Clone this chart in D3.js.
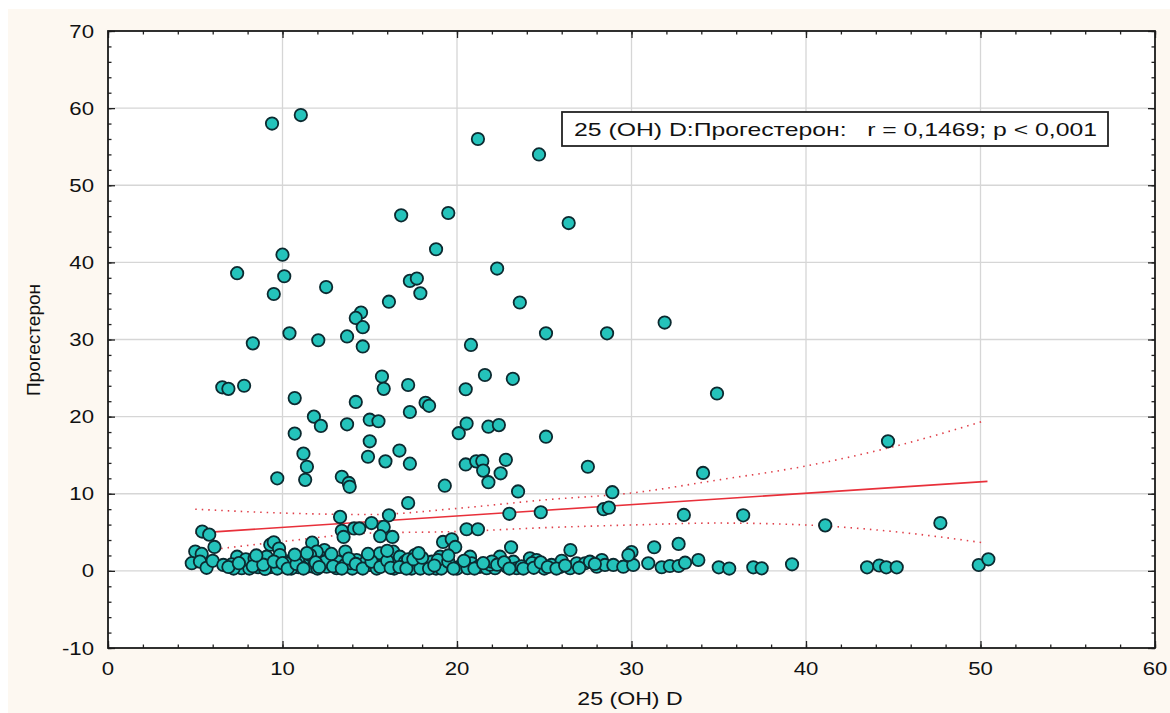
<!DOCTYPE html>
<html><head><meta charset="utf-8">
<script src="https://cdn.jsdelivr.net/npm/d3@7"></script>
<style>body{margin:0;background:#fff}svg{display:block}</style>
</head><body><svg id="c" width="1170" height="713"></svg>
<script>
// 25 (OH) D values (x)
const vitD = [
9.4,11.05,21.2,24.7,16.8,19.5,26.4,18.8,22.3,17.3,17.7,17.9,23.6,10.0,7.4,10.1,12.5,9.5,16.1,14.5,
14.2,14.6,10.4,12.05,13.7,14.6,8.3,15.7,15.8,6.55,6.9,7.8,10.7,14.2,11.8,12.2,13.7,15.0,15.5,10.7,
15.0,16.7,11.2,14.9,15.9,11.4,9.7,11.3,13.4,13.8,13.85,25.1,28.6,31.9,20.8,17.2,21.6,23.2,20.5,34.9,
18.2,18.4,17.3,20.55,21.8,22.4,20.1,25.1,17.3,20.5,21.1,21.45,22.8,21.5,22.5,27.5,34.1,19.3,21.8,23.5,
28.9,17.2,44.7,36.4,41.1,47.7,23.0,24.8,28.4,28.7,33.0,20.55,21.2,19.2,19.7,19.9,23.1,26.5,30.0,31.3,
32.7,5.4,5.8,13.3,16.1,13.4,13.5,14.1,14.4,15.1,15.8,15.6,16.3,5.0,6.1,9.3,9.5,9.8,9.85,11.7,
13.6,12.4,5.37,7.4,
4.8,5.27,5.65,6.0,6.61,7.09,7.66,8.14,8.61,8.81,9.28,9.67,10.14,10.53,10.91,11.1,11.39,11.58,11.76,12.25,
12.34,12.53,9.09,11.96,11.58,12.72,12.43,13.2,13.58,14.25,14.44,15.01,15.3,15.59,15.78,16.16,16.35,16.54,16.73,17.02,
16.92,17.59,17.69,18.07,18.17,18.55,19.03,19.31,19.7,20.27,20.75,20.84,21.22,21.32,21.7,22.18,22.46,22.85,23.23,23.42,
24.09,24.18,24.56,24.65,25.42,26.48,26.86,27.34,27.62,28.01,28.3,28.48,28.96,29.53,30.1,29.82,30.96,31.73,32.2,32.7,
33.07,33.83,35.0,35.6,36.98,37.46,39.2,43.5,44.2,44.6,45.2,49.9,50.45,
7.2,8.1,9.0,9.7,10.5,12.0,13.1,14.0,15.4,16.4,17.4,17.9,18.8,19.1,20.0,20.6,21.9,23.7,25.0,25.9,
7.9,8.4,10.2,13.9,14.8,17.2,18.9,22.0,24.3,26.0,
6.9,7.5,8.3,8.9,9.5,10.0,10.3,10.8,11.2,11.9,12.1,12.9,13.4,13.8,14.2,14.6,15.1,15.6,16.0,16.2,
16.7,17.1,17.5,18.0,18.4,18.7,19.5,19.8,20.4,21.0,21.5,22.3,22.7,23.0,23.8,24.4,24.8,25.2,25.7,26.2,
27.0,27.9,11.4,14.9,17.8,19.5,8.5,10.7,12.8,16.0
];
// Прогестерон values (y)
const prog = [
58.0,59.1,56.0,54.0,46.1,46.4,45.1,41.7,39.2,37.6,37.9,36.0,34.8,41.0,38.6,38.2,36.8,35.9,34.9,33.5,
32.8,31.6,30.8,29.9,30.4,29.1,29.5,25.2,23.6,23.8,23.6,24.0,22.4,21.9,20.0,18.8,19.0,19.6,19.4,17.8,
16.8,15.6,15.2,14.8,14.2,13.5,12.0,11.8,12.2,11.4,10.9,30.8,30.8,32.2,29.3,24.1,25.4,24.9,23.55,23.0,
21.8,21.4,20.6,19.1,18.7,18.9,17.85,17.4,13.9,13.8,14.2,14.25,14.4,13.0,12.65,13.5,12.7,11.05,11.5,10.3,
10.2,8.8,16.8,7.2,5.9,6.2,7.4,7.6,8.0,8.2,7.25,5.4,5.4,3.75,4.1,3.1,3.06,2.7,2.45,3.06,
3.5,5.1,4.7,7.0,7.2,5.2,4.4,5.5,5.5,6.2,5.7,4.5,4.4,2.5,3.1,3.4,3.7,2.9,2.06,3.66,
2.5,2.7,2.2,1.84,
1.0,1.2,0.4,1.3,0.77,0.86,0.34,0.99,0.47,1.12,0.47,0.77,0.54,1.41,0.47,1.63,0.54,1.63,0.54,0.77,
1.63,0.54,1.84,2.49,2.06,1.84,1.19,1.19,0.77,1.41,0.54,0.77,1.63,2.28,0.77,2.06,2.49,0.99,1.84,1.19,
0.54,2.06,0.99,0.99,0.54,1.19,1.84,0.77,0.54,0.77,1.84,0.99,0.54,0.54,0.34,0.34,1.84,0.54,1.19,0.34,
0.77,1.63,1.41,0.77,0.77,0.34,0.99,0.99,1.19,0.54,1.41,0.77,0.77,0.54,0.77,2.06,0.99,0.47,0.63,0.63,
1.06,1.41,0.46,0.3,0.46,0.33,0.85,0.46,0.7,0.46,0.46,0.76,1.5,
0.3,0.3,0.25,0.3,0.3,0.3,0.35,0.3,0.3,0.3,0.3,0.3,0.3,0.3,0.3,0.35,0.8,0.6,0.3,0.5,
1.5,1.6,1.0,1.0,1.2,1.5,1.4,1.2,1.0,1.3,
0.5,1.0,0.6,0.8,1.2,1.0,0.3,0.9,0.3,1.1,0.5,0.6,0.3,1.6,0.9,0.3,1.2,0.5,1.3,0.4,
0.5,0.3,1.5,1.7,0.3,0.7,1.2,0.3,1.3,0.3,1.0,0.8,1.1,0.3,0.3,0.4,1.1,0.5,0.3,0.7,
0.4,0.9,2.3,2.2,2.3,2.0,2.0,2.1,2.2,2.6
];
const xTicks = [0,10,20,30,40,50,60];
const yTicks = [-10,0,10,20,30,40,50,60,70];
const regX = [5, 50.4];
const regY = [4.9, 11.6];
const ciX     = [5,   10,  15,  20,  25,  30,   35,   40,   45,   50.3];
const ciUpper = [8.0, 7.5, 7.3, 8.1, 9.2, 10.1, 11.8, 13.6, 16.1, 19.5];
const ciLower = [2.5, 3.8, 4.9, 5.1, 5.6, 5.95, 6.2,  5.95, 5.1,  3.6];
const xTitle = "25 (OH) D";
const yTitle = "Прогестерон";
const note = "25 (OH) D:Прогестерон:   r = 0,1469; p < 0,001";

const svg = d3.select("#c");
const L = 108, R = 1155, T = 31, B = 648;
const x = d3.scaleLinear().domain([0,60]).range([L,R]);
const y = d3.scaleLinear().domain([-10,70]).range([B,T]);

svg.append("rect").attr("x",8).attr("y",9).attr("width",1162).attr("height",704).attr("fill","#fdf8f1");
svg.append("rect").attr("x",L).attr("y",T).attr("width",R-L).attr("height",B-T).attr("fill","#fff");

// grid
const grid = svg.append("g").attr("stroke","#d6d6d6").attr("stroke-width",1.3);
grid.selectAll(".gx").data(xTicks.slice(1,-1)).join("line")
  .attr("x1",d=>x(d)).attr("x2",d=>x(d)).attr("y1",T).attr("y2",B);
grid.selectAll(".gy").data(yTicks.slice(1,-1)).join("line")
  .attr("y1",d=>y(d)).attr("y2",d=>y(d)).attr("x1",L).attr("x2",R);

// axes ticks (inward), major + minor
const minorX = d3.range(0,60.01,2), minorY = d3.range(-10,70.01,2);
function ax(gen, tr, vals, size){
  const g = svg.append("g").attr("transform",tr)
    .call(gen.tickValues(vals).tickSize(size).tickFormat(""));
  g.select(".domain").remove();
  g.selectAll("line").attr("stroke","#222").attr("stroke-width",1.3);
  return g;
}
ax(d3.axisBottom(x), `translate(0,${B})`, minorX, -3.5);
ax(d3.axisBottom(x), `translate(0,${B})`, xTicks, -7);
ax(d3.axisTop(x), `translate(0,${T})`, minorX, -3.5);
ax(d3.axisTop(x), `translate(0,${T})`, xTicks, -7);
ax(d3.axisLeft(y), `translate(${L},0)`, minorY, -3.5);
ax(d3.axisLeft(y), `translate(${L},0)`, yTicks, -7);
ax(d3.axisRight(y), `translate(${R},0)`, minorY, -3.5);
ax(d3.axisRight(y), `translate(${R},0)`, yTicks, -7);

svg.append("rect").attr("x",L).attr("y",T).attr("width",R-L).attr("height",B-T)
  .attr("fill","none").attr("stroke","#1a1a1a").attr("stroke-width",1.8);

// tick labels
const FONT = "'Liberation Sans', Arial, sans-serif";
function txt(s, tx, ty, anchor, size, sx){
  return svg.append("text").attr("transform",`translate(${tx},${ty}) scale(${sx},1)`)
    .attr("text-anchor",anchor).attr("font-family",FONT).attr("font-size",size)
    .attr("fill","#111").text(s);
}
xTicks.forEach(t => txt(String(t), x(t), 675, "middle", 18.5, 1.2));
yTicks.forEach(t => txt(String(t), 94, y(t)+6.6, "end", 18.5, 1.2));

// titles
txt(xTitle, 630, 705, "middle", 18.5, 1.25);
svg.append("text").attr("transform",`translate(40,340) rotate(-90)`)
  .attr("text-anchor","middle").attr("font-family","'Liberation Sans Narrow', 'Liberation Sans', sans-serif")
  .attr("font-size",19).attr("fill","#111").text(yTitle);

// regression line + CI
const line = d3.line().x(d=>x(d[0])).y(d=>y(d[1])).curve(d3.curveMonotoneX);
svg.append("path").attr("d", line(ciX.map((v,i)=>[v,ciUpper[i]])))
  .attr("fill","none").attr("stroke","#e0404a").attr("stroke-width",1.6).attr("stroke-dasharray","1.5,5");
svg.append("path").attr("d", line(ciX.map((v,i)=>[v,ciLower[i]])))
  .attr("fill","none").attr("stroke","#e0404a").attr("stroke-width",1.6).attr("stroke-dasharray","1.5,5");
svg.append("path").attr("d", d3.line().x(d=>x(d[0])).y(d=>y(d[1]))(regX.map((v,i)=>[v,regY[i]])))
  .attr("fill","none").attr("stroke","#e8303a").attr("stroke-width",1.6);

// points
svg.append("g").selectAll("circle").data(vitD.map((v,i)=>[v,prog[i]])).join("circle")
  .attr("cx",d=>x(d[0])).attr("cy",d=>y(d[1])).attr("r",6.2)
  .attr("fill","#24c3bb").attr("stroke","#0c2a30").attr("stroke-width",1.8);

// note box
svg.append("rect").attr("x",562).attr("y",112).attr("width",546).attr("height",34)
  .attr("fill","#fff").attr("stroke","#222").attr("stroke-width",1.8);
svg.append("text").attr("x",574).attr("y",136).attr("font-family",FONT).attr("font-size",19)
  .attr("fill","#111").attr("xml:space","preserve").style("white-space","pre")
  .attr("textLength",523).attr("lengthAdjust","spacingAndGlyphs").text(note);
</script></body></html>
